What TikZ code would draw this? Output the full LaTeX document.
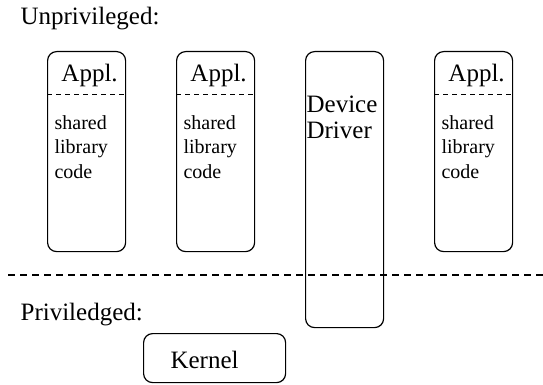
\documentclass[tikz,border=0pt]{standalone}
\usepackage{fontspec}
\setmainfont{Liberation Serif}
\usetikzlibrary{positioning}
\tikzset{every node/.style={align=left}}

\begin{document}
\begin{tikzpicture}[x=1pt,y=-1pt,line width=1.2pt,
  proc/.style={rectangle,draw,rounded corners=9pt,minimum width=78pt,minimum height=200pt,anchor=north west,inner sep=0pt},
  lbl/.style={inner sep=0pt,font=\fontsize{25}{26}\selectfont},
  lib/.style={inner sep=0pt,font=\fontsize{20}{24.5}\selectfont,anchor=base west},
  split/.style={dash pattern=on 5pt off 4pt,line width=0.9pt}]
\useasboundingbox (0,0) rectangle (543,385);

\node[lbl,anchor=base west] (unpriv) at (20,25) {Unprivileged:};

% processes
\node[proc] (A1) at (47,51) {};
\node[proc] (A2) at (176,51) {};
\node[proc,minimum height=276pt] (DD) at (305,51) {};
\node[proc] (A3) at (434,51) {};

% base of a multi-line node is its last line
\foreach \a in {A1,A2,A3} {
  \draw[split] ([yshift=-43pt]\a.north west) -- ([yshift=-43pt]\a.north east);
  \node[lbl,anchor=base] (\a-t) at ([xshift=3pt,yshift=-31pt]\a.north) {Appl.};
  \node[lib] (\a-l) at ([xshift=7pt,yshift=-127pt]\a.north west) {shared\\library\\code};
}
\node[lbl,anchor=base west] (DD-t) at ([xshift=1pt,yshift=-88pt]DD.north west) {Device\\Driver};

% user / kernel boundary
\coordinate (sepL) at (8,275);
\coordinate (sepR) at (543,275);
\draw[dash pattern=on 7pt off 5pt] (sepL) -- (sepR);

\node[lbl,anchor=base west] (priv) at (20,320) {Priviledged:};

\node[proc,minimum width=142pt,minimum height=49pt] (K) at (143,333) {};
\node[lbl,anchor=base,font=\fontsize{25}{26}\selectfont] (K-t) at ([xshift=-10pt,yshift=-35pt]K.north) {Kernel};

\end{tikzpicture}
\end{document}
